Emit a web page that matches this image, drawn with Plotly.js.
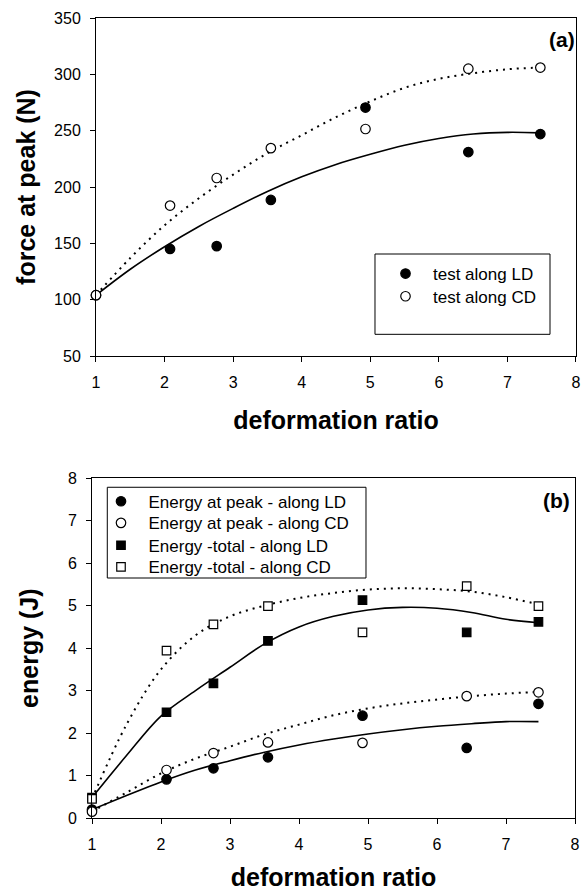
<!DOCTYPE html>
<html>
<head>
<meta charset="utf-8">
<script src="https://cdn.plot.ly/plotly-3.0.1.min.js"></script>
<style>html,body{margin:0;padding:0;background:#fff;}#chart{width:582px;height:891px;}</style>
</head>
<body>
<div id="chart"></div>
<script>
// ---- panel (a): force at peak ----
const xA = [1, 2.08, 2.76, 3.55, 4.93, 6.43, 7.48];
const forceLD = [104, 145, 147.5, 188.5, 270.5, 231, 247];
const forceCD = [104, 183.5, 208, 234.5, 251.5, 305, 306];
// trend curves
const xFitA = [1, 1.5, 2, 2.5, 3, 3.5, 4, 4.5, 5, 5.5, 6, 6.5, 7, 7.48];
const fitForceLD = [104, 127, 147, 165, 181, 196, 209, 220, 229, 237, 243, 247, 248.5, 248];
const fitForceCD = [104, 137, 166, 190, 211, 230, 246, 262, 276, 288, 296, 301, 304.5, 306];

// ---- panel (b): energy ----
const xB = [1, 2.08, 2.76, 3.55, 4.92, 6.43, 7.47];
const peakLD = [0.2, 0.91, 1.17, 1.43, 2.41, 1.65, 2.69];
const peakCD = [0.15, 1.13, 1.53, 1.78, 1.77, 2.87, 2.96];
const totalLD = [0.48, 2.49, 3.17, 4.17, 5.13, 4.37, 4.62];
const totalCD = [0.45, 3.94, 4.56, 4.99, 4.37, 5.46, 4.99];
const xFitB = [1, 1.5, 2, 2.5, 3, 3.5, 4, 4.5, 5, 5.5, 6, 6.5, 7, 7.47];
const fitPeakLD = [0.2, 0.53, 0.85, 1.13, 1.35, 1.55, 1.72, 1.86, 1.98, 2.08, 2.16, 2.22, 2.27, 2.27];
const fitPeakCD = [0.15, 0.6, 1.05, 1.4, 1.68, 1.97, 2.2, 2.42, 2.58, 2.7, 2.79, 2.87, 2.93, 2.97];
const fitTotalLD = [0.48, 1.47, 2.4, 3.0, 3.55, 4.1, 4.5, 4.75, 4.9, 4.96, 4.94, 4.84, 4.68, 4.6];
const fitTotalCD = [0.45, 2.2, 3.5, 4.3, 4.75, 5.0, 5.18, 5.3, 5.38, 5.41, 5.39, 5.33, 5.2, 5.03];

const namesA = ['test along LD', 'test along CD'];
const namesB = ['Energy at peak - along LD', 'Energy at peak - along CD',
                'Energy -total - along LD', 'Energy -total - along CD'];

const FONT = 'Liberation Sans, Arial, sans-serif';
const solid = {color: '#000', width: 1.6, shape: 'spline', smoothing: 1};
const dotted = {color: '#000', width: 2, dash: '2px,5px', shape: 'spline', smoothing: 1};

function curve(x, y, line, xa, ya) {
  return {x: x, y: y, mode: 'lines', line: line, xaxis: xa, yaxis: ya,
          showlegend: false, hoverinfo: 'skip'};
}
function pts(x, y, name, symbol, filled, size, xa, ya, leg) {
  return {x: x, y: y, mode: 'markers', name: name, xaxis: xa, yaxis: ya, legend: leg,
          cliponaxis: false,
          marker: {symbol: symbol, size: size, color: filled ? '#000' : '#fff',
                   line: {color: '#000', width: 1.2}}};
}

const data = [
  curve(xFitA, fitForceLD, solid, 'x', 'y'),
  curve(xFitA, fitForceCD, dotted, 'x', 'y'),
  pts(xA, forceLD, namesA[0], 'circle', true, 9.5, 'x', 'y', 'legend'),
  pts(xA, forceCD, namesA[1], 'circle', false, 9.5, 'x', 'y', 'legend2'),
  curve(xFitB, fitPeakLD, solid, 'x2', 'y2'),
  curve(xFitB, fitPeakCD, dotted, 'x2', 'y2'),
  curve(xFitB, fitTotalLD, solid, 'x2', 'y2'),
  curve(xFitB, fitTotalCD, dotted, 'x2', 'y2'),
  pts(xB, peakLD, namesB[0], 'circle', true, 9.5, 'x2', 'y2', 'legend3'),
  pts(xB, peakCD, namesB[1], 'circle', false, 9.5, 'x2', 'y2', 'legend4'),
  pts(xB, totalLD, namesB[2], 'square', true, 8.5, 'x2', 'y2', 'legend5'),
  pts(xB, totalCD, namesB[3], 'square', false, 8.5, 'x2', 'y2', 'legend6')
];

const tickfont = {family: FONT, size: 16, color: '#000'};
const titlefont = {family: FONT, size: 25, color: '#000', weight: 'bold'};
function xaxis(domain, anchor) {
  return {domain: domain, anchor: anchor, range: [1, 8], dtick: 1, tick0: 1,
          showgrid: false, zeroline: false, showline: true, mirror: true,
          linecolor: '#000', linewidth: 1, ticks: 'outside', ticklen: 5,
          tickcolor: '#000', tickwidth: 1, tickfont: tickfont, ticklabelstandoff: 7,
          title: {text: 'deformation ratio', font: titlefont, standoff: 21}};
}
function yaxis(domain, anchor, range, dtick, title, standoff) {
  return {domain: domain, anchor: anchor, range: range, dtick: dtick,
          showgrid: false, zeroline: false, showline: true, mirror: true,
          linecolor: '#000', linewidth: 1, ticks: 'outside', ticklen: 5,
          tickcolor: '#000', tickwidth: 1, tickfont: tickfont, ticklabelstandoff: 6,
          title: {text: title, font: titlefont, standoff: standoff}};
}

const legFont = {family: FONT, size: 17, color: '#000'};
function leg(xpx, ypx) {
  return {x: (xpx - 92) / 484, y: (818 - ypx) / 800, xanchor: 'left', yanchor: 'middle',
          bgcolor: 'rgba(0,0,0,0)', borderwidth: 0, font: legFont, itemwidth: 45};
}
const layout = {
  width: 582, height: 891,
  margin: {l: 92, r: 6, t: 18, b: 73},
  paper_bgcolor: '#fff', plot_bgcolor: '#fff',
  font: {family: FONT, color: '#000'},
  xaxis: xaxis([0.00826, 1], 'y'),
  yaxis: yaxis([0.5775, 1], 'x', [50, 350], 50, 'force at peak (N)', 11),
  xaxis2: xaxis([0, 0.998], 'y2'),
  yaxis2: yaxis([0, 0.4246], 'x2', [0, 8], 1, 'energy (J)', 22),
  legend: leg(378, 274),
  legend2: leg(378, 296.7),
  legend3: leg(93.5, 501.7),
  legend4: leg(93.5, 523.3),
  legend5: leg(93.5, 545.7),
  legend6: leg(93.5, 567.3),
  shapes: [
    {type: 'rect', xref: 'paper', yref: 'paper', x0: 0.5847, x1: 0.9463, y0: 0.6046, y1: 0.705,
     line: {color: '#000', width: 1}},
    {type: 'rect', xref: 'paper', yref: 'paper', x0: 0.0316, x1: 0.5661, y0: 0.3, y1: 0.4134,
     line: {color: '#000', width: 1}}
  ],
  annotations: [
    {text: '(a)', xref: 'paper', yref: 'paper', x: 0.971, y: 0.9725, xanchor: 'center', yanchor: 'middle',
     showarrow: false, font: {family: FONT, size: 21, color: '#000', weight: 'bold'}},
    {text: '(b)', xref: 'paper', yref: 'paper', x: 0.960, y: 0.3963, xanchor: 'center', yanchor: 'middle',
     showarrow: false, font: {family: FONT, size: 21, color: '#000', weight: 'bold'}}
  ]
};

Plotly.newPlot('chart', data, layout, {displayModeBar: false, staticPlot: true});
</script>
</body>
</html>
